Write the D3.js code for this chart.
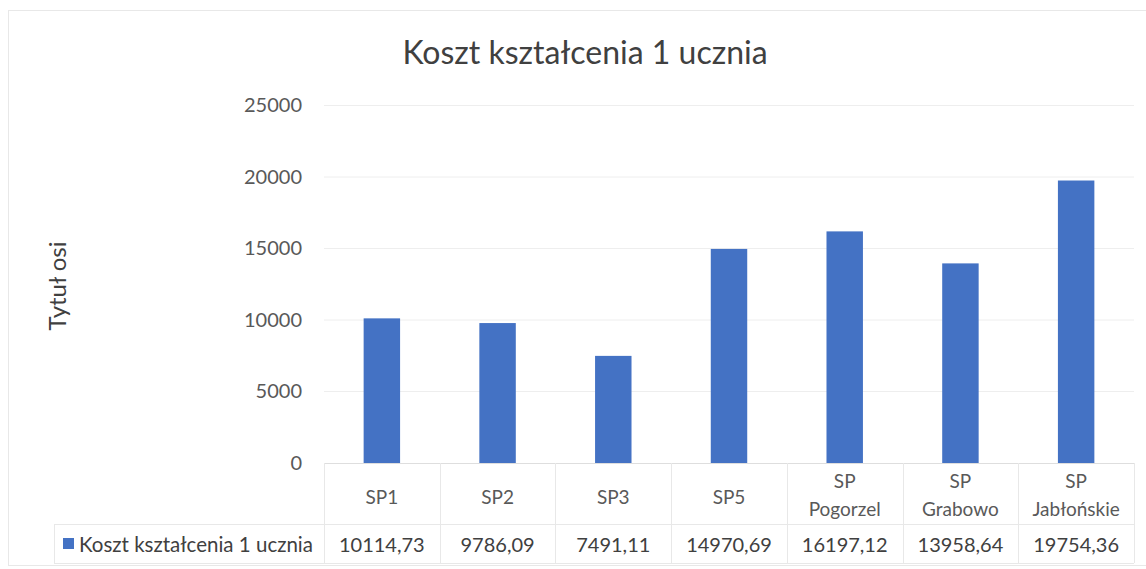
<!DOCTYPE html>
<html><head><meta charset="utf-8">
<script src="https://cdn.jsdelivr.net/npm/d3@7"></script>
<style>body{margin:0;background:#fff}svg{display:block}</style>
</head><body>
<script>
const title = "Koszt kształcenia 1 ucznia";
const axisTitle = "Tytuł osi";
const seriesName = "Koszt kształcenia 1 ucznia";
const categories = [["SP1"],["SP2"],["SP3"],["SP5"],["SP","Pogorzel"],["SP","Grabowo"],["SP","Jabłońskie"]];
const values = [10114.73, 9786.09, 7491.11, 14970.69, 16197.12, 13958.64, 19754.36];
const valueLabels = ["10114,73","9786,09","7491,11","14970,69","16197,12","13958,64","19754,36"];
const yTicks = [0, 5000, 10000, 15000, 20000, 25000];

(function(){
const W = 1146, H = 569;
const font = "Lato, 'Open Sans', sans-serif";
const svg = d3.select("body").append("svg").attr("width", W).attr("height", H);

// chart area border
svg.append("rect").attr("x", 8.5).attr("y", 10.5).attr("width", W).attr("height", H - 14)
  .attr("fill", "none").attr("stroke", "#e8e8e8");

const left = 324, right = 1134, topY = 105.5, zeroY = 463;
const x = d3.scaleBand().domain(d3.range(categories.length)).range([left, right]).paddingInner(0.685).paddingOuter(0.3425);
const y = d3.scaleLinear().domain([0, 25000]).range([zeroY, topY]);

svg.append("text").attr("x", 585).attr("y", 64).attr("text-anchor", "middle")
  .attr("font-family", font).attr("font-size", 32).attr("fill", "#404040").text(title);

// gridlines
svg.append("g").selectAll("line").data(yTicks.filter(d => d > 0)).join("line")
  .attr("x1", left).attr("x2", right).attr("y1", d => y(d)).attr("y2", d => y(d))
  .attr("stroke", "#eeeeee").attr("stroke-width", 1);

// y axis labels
const yAxis = d3.axisLeft(y).tickValues(yTicks).tickSize(0).tickPadding(0).tickFormat(d3.format("d"));
const ga = svg.append("g").attr("transform", `translate(302,0)`).call(yAxis);
ga.select(".domain").remove();
ga.selectAll("text").attr("font-family", font).attr("font-size", 20).attr("fill", "#595959");

svg.append("text").attr("transform", "translate(66,286) rotate(-90)").attr("text-anchor", "middle")
  .attr("font-family", font).attr("font-size", 24).attr("fill", "#404040").text(axisTitle);

// bars
svg.append("g").selectAll("rect").data(values).join("rect")
  .attr("x", (d, i) => x(i)).attr("width", x.bandwidth())
  .attr("y", d => y(d)).attr("height", d => zeroY - y(d)).attr("fill", "#4472C4");

// data table
const colStart = i => left + i * (right - left) / categories.length;
const colW = (right - left) / categories.length;
const tableTop = zeroY, rowSplit = 524, tableBottom = 563, legendLeft = 54;
const lineColor = "#e8e8e8";
const tg = svg.append("g");
tg.append("line").attr("x1", left).attr("x2", right).attr("y1", tableTop + 0.5).attr("y2", tableTop + 0.5).attr("stroke", "#dedede");
tg.append("line").attr("x1", legendLeft).attr("x2", right).attr("y1", rowSplit + 0.5).attr("y2", rowSplit + 0.5).attr("stroke", lineColor);
tg.append("line").attr("x1", legendLeft).attr("x2", right).attr("y1", tableBottom + 0.5).attr("y2", tableBottom + 0.5).attr("stroke", lineColor);
tg.append("line").attr("x1", legendLeft + 0.5).attr("x2", legendLeft + 0.5).attr("y1", rowSplit).attr("y2", tableBottom).attr("stroke", lineColor);
tg.selectAll("line.v").data(d3.range(categories.length + 1)).join("line").attr("class", "v")
  .attr("x1", i => Math.round(colStart(i)) + 0.5).attr("x2", i => Math.round(colStart(i)) + 0.5)
  .attr("y1", tableTop).attr("y2", tableBottom).attr("stroke", lineColor);

// category labels
tg.selectAll("text.cat").data(categories).join("text").attr("class", "cat")
  .attr("text-anchor", "middle").attr("font-family", font).attr("font-size", 19).attr("fill", "#595959")
  .each(function(lines, i) {
    const t = d3.select(this);
    const cx = colStart(i) + colW / 2;
    const lh = 28;
    const y0 = lines.length === 1 ? 504 : 488;
    lines.forEach((s, k) => t.append("tspan").attr("x", cx).attr("y", y0 + k * lh).text(s));
  });

// values
tg.selectAll("text.val").data(valueLabels).join("text").attr("class", "val")
  .attr("x", (d, i) => colStart(i) + colW / 2).attr("y", 552).attr("text-anchor", "middle")
  .attr("font-family", font).attr("font-size", 20).attr("fill", "#404040").text(d => d);

// legend key
tg.append("rect").attr("x", 63).attr("y", 538).attr("width", 11).attr("height", 11).attr("fill", "#4472C4");
tg.append("text").attr("x", 79).attr("y", 552).attr("font-family", font).attr("font-size", 20.5)
  .attr("fill", "#404040").text(seriesName);
})();
</script>
</body></html>
